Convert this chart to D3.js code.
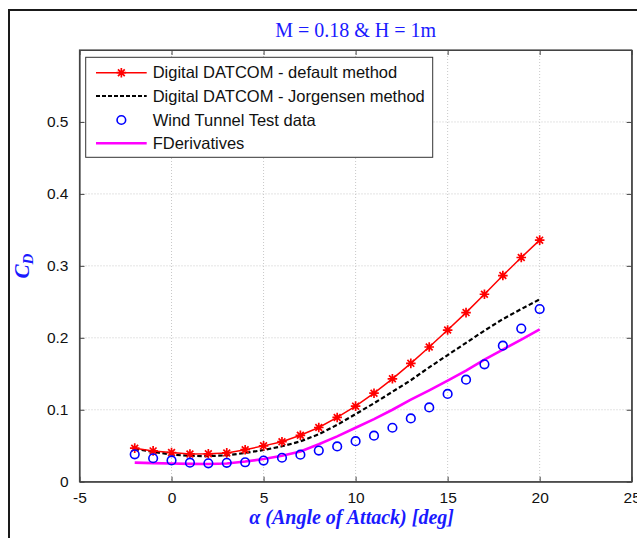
<!DOCTYPE html>
<html>
<head>
<meta charset="utf-8">
<script src="https://cdn.jsdelivr.net/npm/d3@7"></script>
<style>
  html, body { margin: 0; padding: 0; background: #fff; }
  svg { display: block; }
</style>
</head>
<body>
<svg id="chart" width="637" height="538"></svg>
<script>
// ---- Data ----
const alpha = [-2,-1,0,1,2,3,4,5,6,7,8,9,10,11,12,13,14,15,16,17,18,19,20];
const defaultMethod = [0.0466,0.0428,0.0405,0.0386,0.0388,0.0400,0.0445,0.0498,0.0556,0.0645,0.0753,0.0893,0.1050,0.1230,0.1430,0.1645,0.1872,0.2108,0.2350,0.2605,0.2865,0.3116,0.3357];
const jorgensen = [0.0456,0.0415,0.0378,0.0358,0.0356,0.0366,0.0400,0.0440,0.0492,0.0560,0.0660,0.0790,0.0940,0.1090,0.1250,0.1410,0.1590,0.1760,0.1930,0.2100,0.2260,0.2400,0.2534];
const windTunnel = [0.0380,0.0326,0.0295,0.0265,0.0256,0.0262,0.0270,0.0293,0.0333,0.0375,0.0432,0.0490,0.0563,0.0640,0.0750,0.0880,0.1032,0.1220,0.1418,0.1632,0.1890,0.2128,0.2400];
const fDerivatives = [0.0265,0.0258,0.0252,0.0248,0.0247,0.0252,0.0280,0.0315,0.0360,0.0420,0.0520,0.0630,0.0750,0.0870,0.1000,0.1140,0.1270,0.1404,0.1544,0.1697,0.1837,0.1976,0.2116];
const xTicks = [-5,0,5,10,15,20,25];
const yTicks = [0,0.1,0.2,0.3,0.4,0.5];
const legendLabels = ["Digital DATCOM - default method","Digital DATCOM - Jorgensen method","Wind Tunnel Test data","FDerivatives"];
const titleText = "M = 0.18 & H = 1m";

// ---- Layout ----
const svg = d3.select("#chart");
const L = 79.5, R = 631.7, T = 50, B = 481.7;
const x = d3.scaleLinear().domain([-5,25]).range([L,R]);
const y = d3.scaleLinear().domain([0,0.6]).range([B,T]);

// outer figure frame
svg.append("rect").attr("x",9).attr("y",10).attr("width",720).attr("height",620)
  .attr("fill","none").attr("stroke","#1a1a1a").attr("stroke-width",2);

// grid
const grid = svg.append("g").attr("stroke","#c8c8c8").attr("stroke-width",1).attr("stroke-dasharray","1,2");
xTicks.filter(t => t > -5 && t < 25).forEach(t => {
  grid.append("line").attr("x1",x(t)).attr("x2",x(t)).attr("y1",T).attr("y2",B);
});
yTicks.filter(t => t > 0).forEach(t => {
  grid.append("line").attr("x1",L).attr("x2",R).attr("y1",y(t)).attr("y2",y(t));
});

// axes (MATLAB-style box, inward ticks)
const axisColor = "#444";
const tickFont = "'Liberation Sans', Arial, sans-serif";
const xb = svg.append("g").attr("transform",`translate(0,${B})`)
  .call(d3.axisBottom(x).tickValues(xTicks).tickSizeInner(-5).tickSizeOuter(0).tickPadding(10).tickFormat(d => String(d)));
const xt = svg.append("g").attr("transform",`translate(0,${T})`)
  .call(d3.axisTop(x).tickValues(xTicks).tickSizeInner(-5).tickSizeOuter(0).tickFormat(""));
const yl = svg.append("g").attr("transform",`translate(${L},0)`)
  .call(d3.axisLeft(y).tickValues(yTicks).tickSizeInner(-5).tickSizeOuter(0).tickPadding(11).tickFormat(d => d === 0 ? "0" : d3.format(".1f")(d)));
const yr = svg.append("g").attr("transform",`translate(${R},0)`)
  .call(d3.axisRight(y).tickValues(yTicks).tickSizeInner(-5).tickSizeOuter(0).tickFormat(""));
[xb,xt,yl,yr].forEach(g => {
  g.selectAll("path").attr("stroke",axisColor).attr("stroke-width",1.2);
  g.selectAll("line").attr("stroke",axisColor);
  g.selectAll("text").attr("font-family",tickFont).attr("font-size","15.5px").attr("fill","#111");
});
// close box edges
svg.append("rect").attr("x",L).attr("y",T).attr("width",R-L).attr("height",B-T)
  .attr("fill","none").attr("stroke",axisColor).attr("stroke-width",1.2);

// ---- Series ----
const idx = d3.range(alpha.length);
const lineOf = arr => d3.line().x(i => x(alpha[i])).y(i => y(arr[i]));

svg.append("path").datum(idx).attr("d", lineOf(fDerivatives))
  .attr("fill","none").attr("stroke","#ff00ff").attr("stroke-width",2.6);

svg.append("path").datum(idx).attr("d", lineOf(jorgensen))
  .attr("fill","none").attr("stroke","#000").attr("stroke-width",2.2).attr("stroke-dasharray","4.5,2.5");

svg.append("path").datum(idx).attr("d", lineOf(defaultMethod))
  .attr("fill","none").attr("stroke","#ff0000").attr("stroke-width",1.5);

const starPath = (cx, cy, s) => {
  const d = s * 0.7071;
  return `M${cx-s},${cy}L${cx+s},${cy}M${cx},${cy-s}L${cx},${cy+s}` +
         `M${cx-d},${cy-d}L${cx+d},${cy+d}M${cx-d},${cy+d}L${cx+d},${cy-d}`;
};
svg.append("g").selectAll("path").data(idx).join("path")
  .attr("d", i => starPath(x(alpha[i]), y(defaultMethod[i]), 4.8))
  .attr("stroke","#ff0000").attr("stroke-width",1.7).attr("fill","none");

svg.append("g").selectAll("circle").data(idx).join("circle")
  .attr("cx", i => x(alpha[i])).attr("cy", i => y(windTunnel[i])).attr("r",4.3)
  .attr("fill","none").attr("stroke","#0000ff").attr("stroke-width",1.6);

// ---- Legend ----
const lg = svg.append("g");
lg.append("rect").attr("x",85.7).attr("y",57.3).attr("width",347).attr("height",100)
  .attr("fill","#fff").attr("stroke","#333").attr("stroke-width",1);
const rowY = [72.7, 96, 120, 143.3];
const sx1 = 96, sx2 = 146.7, sxm = (sx1+sx2)/2;
// row 0: red line + star
lg.append("line").attr("x1",sx1).attr("x2",sx2).attr("y1",rowY[0]).attr("y2",rowY[0]).attr("stroke","#ff0000").attr("stroke-width",1.5);
lg.append("path").attr("d",starPath(sxm,rowY[0],4.8)).attr("stroke","#ff0000").attr("stroke-width",1.7);
// row 1: dashed
lg.append("line").attr("x1",sx1).attr("x2",sx2).attr("y1",rowY[1]).attr("y2",rowY[1]).attr("stroke","#000").attr("stroke-width",2).attr("stroke-dasharray","4,2");
// row 2: circle
lg.append("circle").attr("cx",sxm).attr("cy",rowY[2]).attr("r",4.3).attr("fill","none").attr("stroke","#0000ff").attr("stroke-width",1.6);
// row 3: magenta
lg.append("line").attr("x1",sx1).attr("x2",sx2).attr("y1",rowY[3]).attr("y2",rowY[3]).attr("stroke","#ff00ff").attr("stroke-width",2.6);
lg.selectAll("text.lbl").data(legendLabels).join("text").attr("class","lbl")
  .attr("x",152.7).attr("y",(d,i) => rowY[i]).attr("dy","0.35em")
  .attr("font-family",tickFont).attr("font-size","16.5px").attr("fill","#111")
  .text(d => d);

// ---- Titles ----
svg.append("text").attr("x",(L+R)/2).attr("y",37).attr("text-anchor","middle")
  .attr("font-family","'Liberation Serif', 'Times New Roman', serif").attr("font-size","20px")
  .attr("fill","#1a1aff").text(titleText);

svg.append("text").attr("x",(L+R)/2 - 4).attr("y",524).attr("text-anchor","middle")
  .attr("font-family","'Liberation Serif', 'Times New Roman', serif").attr("font-size","20px")
  .attr("font-weight","bold").attr("font-style","italic").attr("fill","#1a1aff")
  .text("α (Angle of Attack) [deg]");

const yLab = svg.append("text").attr("transform","translate(29,266) rotate(-90)").attr("text-anchor","middle")
  .attr("font-family","'Liberation Serif', 'Times New Roman', serif").attr("font-size","21px")
  .attr("font-style","italic").attr("font-weight","bold").attr("fill","#1a1aff");
yLab.append("tspan").text("C");
yLab.append("tspan").attr("font-size","15px").attr("dy","4").text("D");
</script>
</body>
</html>
